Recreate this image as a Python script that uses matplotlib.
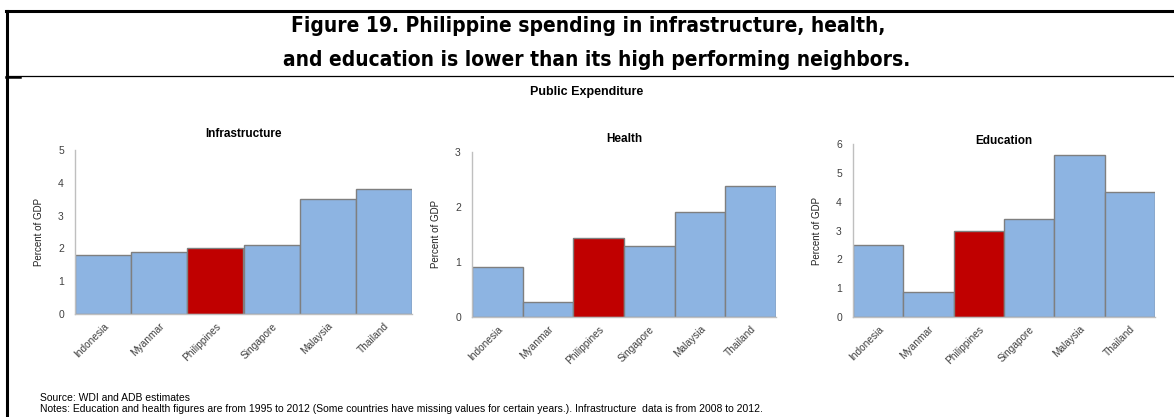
import matplotlib.pyplot as plt
from matplotlib.lines import Line2D

countries = ['Indonesia', 'Myanmar', 'Philippines', 'Singapore', 'Malaysia', 'Thailand']
infrastructure = [1.8, 1.9, 2.0, 2.1, 3.5, 3.8]
health = [0.91, 0.28, 1.44, 1.30, 1.91, 2.38]
education = [2.50, 0.85, 2.98, 3.39, 5.63, 4.33]

# name, values, y max, axes box in pixels (left, top, right, bottom), title y
panels = [
    ('Infrastructure', infrastructure, 5, [75, 150, 412, 314], 134),
    ('Health', health, 3, [472, 152, 776, 317], 139),
    ('Education', education, 6, [853, 144, 1155, 317], 141),
]

W, H = 1174, 417
plt.rcParams['font.family'] = ['Liberation Sans', 'DejaVu Sans']
fig = plt.figure(figsize=(W / 100, H / 100), dpi=100)

blue = '#8DB4E2'
red = '#C00000'
edge = '#7F7F7F'

for name, vals, top, (x0, y0, x1, y1), ty in panels:
    ax = fig.add_axes([x0 / W, 1 - y1 / H, (x1 - x0) / W, (y1 - y0) / H])
    colors = [red if c == 'Philippines' else blue for c in countries]
    ax.bar(range(len(countries)), vals, width=1.0, color=colors,
           edgecolor=edge, linewidth=1.0)
    ax.set_xlim(-0.5, len(countries) - 0.5)
    ax.set_ylim(0, top)
    ax.set_yticks(range(top + 1))
    ax.set_xticks(range(len(countries)))
    ax.set_xticklabels(countries, rotation=45, ha='right', rotation_mode='anchor',
                       fontsize=7.3, color='#404040')
    ax.tick_params(axis='both', length=0, colors='#404040')
    ax.tick_params(axis='y', pad=8, labelsize=7.5)
    ax.tick_params(axis='x', pad=5)
    for s in ['top', 'right']:
        ax.spines[s].set_visible(False)
    for s in ['left', 'bottom']:
        ax.spines[s].set_color('#BFBFBF')
        ax.spines[s].set_linewidth(1.0)
    ax.set_ylabel('Percent of GDP', fontsize=7, color='#202020', labelpad=10)
    fig.text((x0 + x1) / 2 / W, 1 - ty / H, name, ha='center', va='center',
             fontsize=8.5, fontweight='bold')

title_font = dict(ha='center', va='center', fontsize=15, fontweight='bold',
                  family='DejaVu Sans', fontstretch='condensed')
fig.text(588 / W, 1 - 26 / H,
         'Figure 19. Philippine spending in infrastructure, health,', **title_font)
fig.text(597 / W, 1 - 60 / H,
         'and education is lower than its high performing neighbors.', **title_font)
fig.text(587 / W, 1 - 92 / H, 'Public Expenditure', ha='center', va='center',
         fontsize=9, fontweight='bold')
fig.text(40 / W, 1 - 398 / H, 'Source: WDI and ADB estimates',
         ha='left', va='center', fontsize=7.5)
fig.text(40 / W, 1 - 409 / H,
         'Notes: Education and health figures are from 1995 to 2012 (Some countries have missing values for certain years.). '
         'Infrastructure  data is from 2008 to 2012.',
         ha='left', va='center', fontsize=7.5)

# frame lines
fig.add_artist(Line2D([6 / W, 1], [1 - 11 / H, 1 - 11 / H], color='black', lw=2.2))
fig.add_artist(Line2D([7 / W, 7 / W], [0, 1 - 11 / H], color='black', lw=2.2))
fig.add_artist(Line2D([6 / W, 1], [1 - 76 / H, 1 - 76 / H], color='black', lw=0.9))
fig.add_artist(Line2D([6 / W, 20 / W], [1 - 77 / H, 1 - 77 / H], color='black', lw=1.8))

fig.savefig('out.png', dpi=100)
